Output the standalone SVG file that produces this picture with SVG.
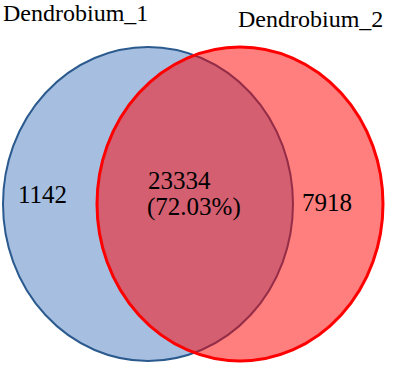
<svg xmlns="http://www.w3.org/2000/svg" width="397" height="366" viewBox="0 0 397 366">
<rect width="397" height="366" fill="#ffffff"/>
<g id="set1">
<ellipse cx="148" cy="204" rx="145" ry="157" fill="#a6bfe0" stroke="#2b5a8e" stroke-width="2"/>
</g>
<g id="set2">
<ellipse cx="240" cy="204" rx="143" ry="157" fill="#ff0000" fill-opacity="0.5" stroke="#ff0000" stroke-width="3"/>
</g>
<g id="labels">
<text x="3" y="21" font-size="24" font-family="serif">Dendrobium_1</text>
<text x="238" y="27" font-size="24" font-family="serif">Dendrobium_2</text>
<text x="18" y="203" font-size="25" font-family="serif">1142</text>
<text x="148" y="189" font-size="25" font-family="serif">23334</text>
<text x="147" y="215" font-size="25" font-family="serif">(72.03%)</text>
<text x="302" y="211" font-size="25" font-family="serif">7918</text>
</g>
</svg>
